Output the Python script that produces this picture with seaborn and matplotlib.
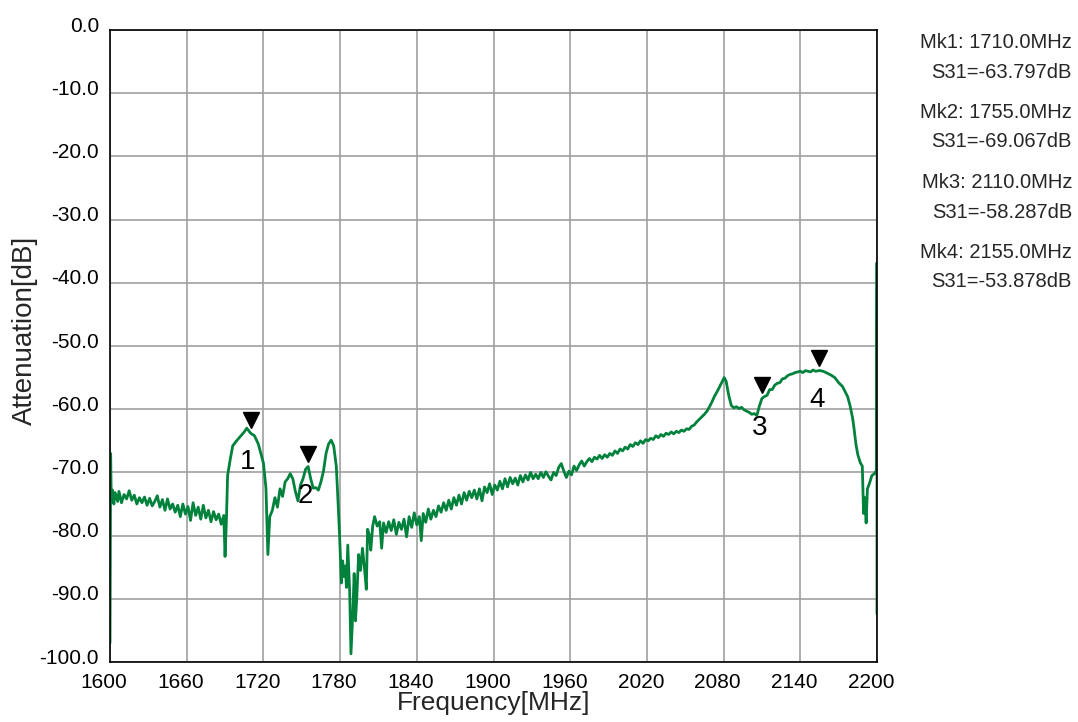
import matplotlib
matplotlib.use('Agg')
import matplotlib.pyplot as plt
import matplotlib.transforms as mtransforms
import pandas as pd
import seaborn as sns

# trace: frequency [MHz] and S31 [dB]
freq = [
    1600, 1600.5, 1601, 1602, 1603, 1604, 1606, 1607, 1609, 1611, 1613, 1615, 1617, 1619,
    1621, 1623, 1625, 1627, 1629, 1631, 1633, 1635, 1637, 1639, 1641, 1643, 1645, 1647,
    1649, 1651, 1653, 1655, 1657, 1659, 1661, 1663, 1665, 1667, 1669, 1671, 1673, 1675,
    1677, 1679, 1681, 1683, 1685, 1687, 1689, 1690,
    1691, 1692, 1694, 1696, 1699, 1702, 1705, 1707, 1710, 1713, 1716, 1718, 1720, 1722,
    1723.5, 1725, 1727, 1729, 1731, 1733, 1735, 1737, 1739, 1741, 1743, 1745, 1747, 1749,
    1751, 1753, 1755, 1757, 1759, 1761, 1763, 1765, 1767, 1769, 1771, 1773, 1775, 1777,
    1778, 1779.5, 1781, 1782, 1783, 1784, 1785, 1786, 1787.5, 1788.5, 1790, 1791, 1792,
    1793, 1794.5, 1796, 1797.5, 1799, 1800.5, 1801.5, 1803, 1804, 1805.5, 1807, 1809,
    1811, 1812.5, 1814, 1816, 1818, 1820, 1822, 1824, 1826, 1828, 1830, 1832, 1834, 1836,
    1838, 1840, 1842, 1843.5, 1845, 1847, 1849, 1851, 1853, 1855, 1857, 1859, 1861, 1863,
    1865, 1867, 1869, 1871, 1873, 1875, 1877, 1879, 1881, 1883, 1885, 1887, 1889, 1891,
    1893, 1895, 1897, 1899, 1901, 1903, 1905, 1907, 1909, 1911, 1913, 1915, 1917, 1919,
    1921, 1923, 1925, 1927, 1929, 1931, 1933, 1935, 1937, 1939, 1941, 1943, 1945, 1947,
    1949, 1951, 1953, 1955, 1957, 1959, 1961, 1963, 1965, 1967, 1969, 1971, 1973, 1975,
    1977, 1979, 1981, 1983, 1985, 1987, 1989, 1991, 1993, 1995, 1997, 1999, 2001, 2003,
    2005, 2007, 2009, 2011, 2013, 2015, 2017, 2019, 2021, 2023, 2025, 2027, 2029, 2031,
    2033, 2035, 2037, 2039, 2041, 2043, 2045, 2047, 2049, 2051, 2053, 2055, 2057, 2059,
    2061, 2063, 2065, 2067, 2069, 2071, 2073, 2075, 2077, 2079, 2080.5, 2082, 2084, 2086,
    2088, 2090, 2092, 2094, 2096, 2098, 2100, 2102, 2104, 2106, 2108, 2110, 2112, 2114,
    2116, 2118, 2120, 2122, 2124, 2126, 2128, 2130, 2132, 2134, 2136, 2138, 2140, 2142,
    2144, 2146, 2148, 2150, 2152, 2155, 2158, 2161, 2164, 2167, 2170, 2173, 2175, 2177,
    2179, 2181, 2182, 2183.5, 2185, 2187, 2188.5, 2189.5, 2190.5, 2191.5, 2192.5, 2194,
    2196, 2198, 2199.5, 2200, 2200,
]
s31 = [
    -97.0, -67.0, -74.5, -72.8, -75.0, -73.2, -74.6, -73.0, -74.8, -73.5, -74.2, -72.9, -74.4, -73.6,
    -75.0, -74.0, -74.8, -73.9, -75.2, -74.1, -75.3, -74.6, -73.7, -75.5, -74.3, -76.0, -74.2, -75.8,
    -75.0, -76.3, -75.2, -77.0, -75.0, -76.6, -75.4, -77.6, -74.8, -76.8, -75.5, -77.4, -75.2, -77.2,
    -76.0, -77.8, -76.2, -77.5, -76.6, -78.2, -76.8, -83.3,
    -78.0, -70.5, -68.0, -65.8, -65.0, -64.3, -63.6, -63.0, -63.8, -64.2, -65.5, -67.0, -68.5, -72.5,
    -83.0, -77.0, -76.0, -74.0, -75.5, -72.6, -73.8, -71.5, -71.0, -70.2, -71.0, -73.0, -74.5, -72.0,
    -71.0, -69.5, -69.07, -71.0, -72.5, -72.4, -72.8, -71.5, -69.8, -67.0, -65.5, -64.9, -65.8, -69.0,
    -73.0, -79.5, -87.5, -84.0, -86.5, -84.8, -88.2, -81.5, -89.0, -98.7, -92.0, -86.0, -93.5,
    -90.0, -83.0, -85.5, -82.0, -85.0, -88.5, -79.0, -80.0, -82.3, -78.5, -77.0, -78.5,
    -77.8, -82.0, -78.0, -79.5, -77.8, -79.2, -77.5, -79.8, -77.9, -79.0, -77.4, -80.2, -77.0, -78.7,
    -76.4, -78.3, -77.0, -80.8, -76.5, -77.9, -75.8, -77.4, -76.0, -77.0, -75.3, -76.3, -74.8, -76.0,
    -74.4, -75.8, -74.0, -75.2, -73.6, -75.0, -73.2, -74.4, -73.0, -74.0, -72.8, -74.2, -72.6, -74.5,
    -72.3, -73.2, -71.8, -73.5, -72.0, -72.8, -71.4, -72.6, -71.0, -72.3, -70.8, -71.8, -70.9, -72.0,
    -70.5, -71.5, -70.4, -71.2, -70.0, -71.0, -70.3, -71.0, -70.0, -70.8, -69.9, -70.6, -71.2, -70.0,
    -70.5, -69.2, -68.6, -69.8, -70.8, -69.8, -70.4, -69.0, -69.7, -68.8, -68.2, -69.0, -68.3, -67.8,
    -68.3, -67.6, -67.9, -67.3, -67.8, -67.2, -67.6, -67.0, -67.3, -66.6, -67.0, -66.3, -66.6, -66.0,
    -66.3, -65.6, -65.9, -65.3, -65.6, -65.0, -65.4, -64.8, -65.0, -64.6, -64.8, -64.2, -64.5, -64.0,
    -64.3, -63.8, -64.0, -63.6, -63.9, -63.5, -63.7, -63.3, -63.5, -63.1, -63.2, -62.7, -62.5, -62.0,
    -61.6, -61.2, -60.8, -60.3, -59.6, -58.8, -57.9, -57.2, -56.4, -55.6, -55.0, -55.6, -57.8, -59.4,
    -59.8, -59.6, -59.9, -59.7, -60.1, -60.3, -60.5, -60.8, -60.7, -61.0, -59.5, -58.29, -58.0, -57.8,
    -56.9, -56.9, -56.2, -55.9, -55.8, -55.2, -55.1, -54.7, -54.5, -54.4, -54.2, -54.1, -54.0, -54.2,
    -53.9, -54.0, -54.1, -53.8, -54.0, -53.88, -54.0, -54.3, -54.6, -55.0, -55.8, -56.4, -57.2, -58.0,
    -59.5, -61.5, -63.0, -65.5, -67.2, -68.5, -69.0, -76.5, -74.0, -78.0, -72.6, -71.8,
    -70.5, -70.2, -69.7, -36.8, -92.4,
]

# markers
mk_freq = [1710.0, 1755.0, 2110.0, 2155.0]
mk_val = [-63.797, -69.067, -58.287, -53.878]
mk_name = ['1', '2', '3', '4']

x_ticks = list(range(1600, 2201, 60))
y_ticks = list(range(0, -101, -10))

sns.set_style('white')
plt.rcParams['font.family'] = ['Liberation Sans', 'DejaVu Sans']

df = pd.DataFrame({'Frequency': freq, 'S31': s31})

fig = plt.figure(figsize=(10.78, 7.22), dpi=100)
ax = fig.add_axes([110 / 1078, 60 / 722, 767 / 1078, 632 / 722])

sns.lineplot(data=df, x='Frequency', y='S31', estimator=None, sort=False,
             color='#00823c', linewidth=2.0, ax=ax)

ax.set_xlim(1600, 2200)
ax.set_ylim(-100, 0)
ax.set_xticks(x_ticks)
ax.set_yticks(y_ticks)
ax.set_xticklabels([str(v) for v in x_ticks])
ax.set_yticklabels(['%.1f' % v for v in y_ticks])
ax.grid(True, color='#a0a0a0', linewidth=1.2)
ax.set_axisbelow(True)
ax.tick_params(length=0, labelsize=15, colors='black')
ax.tick_params(axis='x', pad=8)
ax.tick_params(axis='y', pad=8)
for sp in ax.spines.values():
    sp.set_color('black')
    sp.set_linewidth(1.2)

# shift tick labels like the analyzer screenshot
dx = mtransforms.ScaledTranslation(-6 / 100, 0, fig.dpi_scale_trans)
dy = mtransforms.ScaledTranslation(0, 6 / 100, fig.dpi_scale_trans)
for lbl in ax.get_xticklabels():
    lbl.set_transform(lbl.get_transform() + dx)
for lbl in ax.get_yticklabels():
    lbl.set_transform(lbl.get_transform() + dy)

ax.set_xlabel('Frequency[MHz]', fontsize=19, labelpad=-1)
ax.set_ylabel('Attenuation[dB]', fontsize=20)
ax.yaxis.set_label_coords(-0.094, 0.525)

# marker triangles and numbers
tri = mtransforms.offset_copy(ax.transData, fig=fig, x=0, y=13, units='dots')
ax.plot(mk_freq, mk_val, linestyle='none', marker='v', markersize=12,
        color='black', transform=tri, clip_on=False)
for f, v, n in zip(mk_freq, mk_val, mk_name):
    ax.annotate(n, (f, v), xytext=(-2, -21), textcoords='offset points',
                ha='center', va='center', fontsize=20, color='black')

# marker readout on the right
for i, (f, v) in enumerate(zip(mk_freq, mk_val)):
    y0 = 1 - (43 + i * 70) / 722
    fig.text(1072 / 1078, y0, 'Mk%d: %.1fMHz' % (i + 1, f), ha='right', va='center', fontsize=14.5)
    fig.text(1072 / 1078, y0 - 29 / 722, 'S31=%.3fdB' % v, ha='right', va='center', fontsize=14.5)

fig.savefig('out.png', dpi=100)
